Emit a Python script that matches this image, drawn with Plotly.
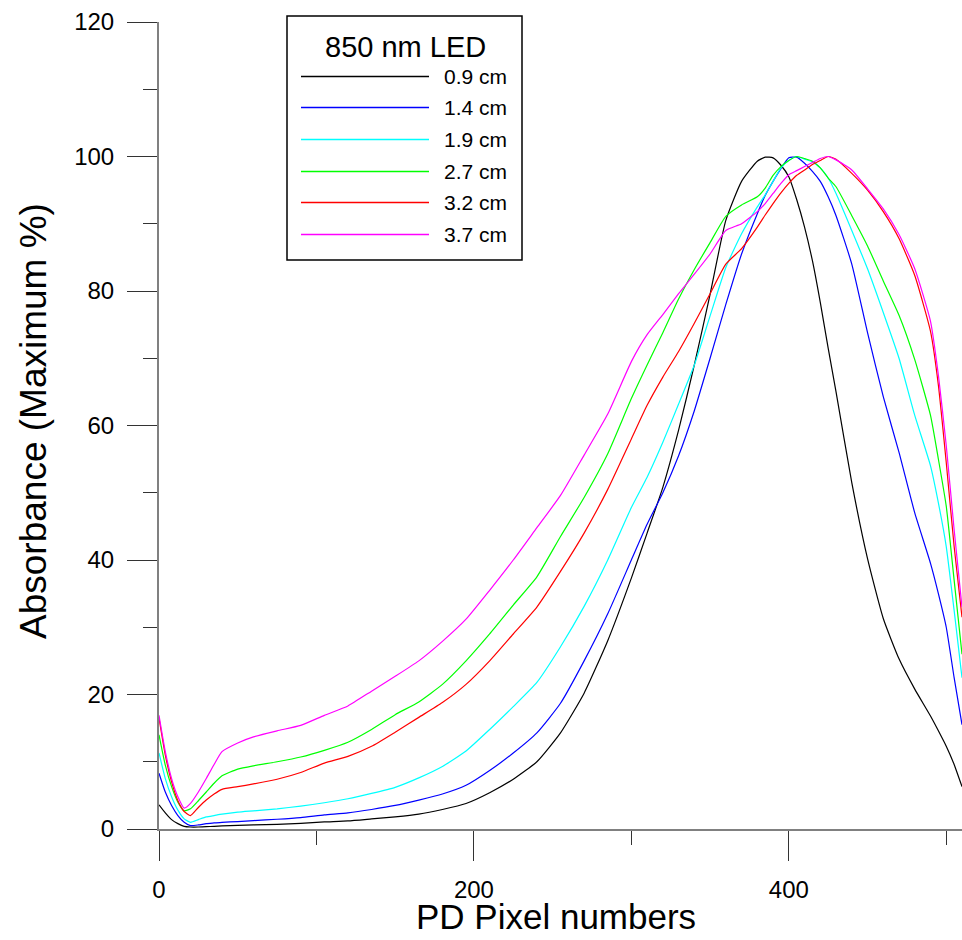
import plotly.graph_objects as go

# ---------------- data ----------------
pixel = [0, 4, 8, 12, 16, 20, 25, 30, 35, 40, 50, 60, 75, 90, 105, 120, 135, 150,
         165, 180, 195, 210, 225, 240, 255, 270, 285, 300, 310, 320, 330, 340,
         350, 360, 370, 380, 385, 390, 395, 400, 405, 410, 415, 420, 425, 430,
         440, 450, 460, 470, 480, 490, 495, 500, 505, 510]

abs_09 = [3.6, 2.4, 1.4, 0.8, 0.4, 0.3, 0.3, 0.35, 0.4, 0.45, 0.55, 0.6, 0.7, 0.85,
          1.05, 1.2, 1.5, 1.8, 2.2, 2.9, 3.8, 5.4, 7.4, 10.0, 14.3, 20.2, 28.0, 37.3,
          44.0, 50.8, 59.3, 69.0, 79.5, 90.5, 96.3, 99.3, 99.9, 99.8, 98.7, 97.0,
          93.6, 89.5, 84.5, 78.3, 71.5, 65.0, 51.5, 40.2, 31.3, 25.3, 20.8, 16.8,
          14.6, 12.3, 9.6, 6.3]

abs_14 = [8.3, 5.5, 3.5, 2.0, 1.0, 0.5, 0.6, 0.8, 0.9, 1.0, 1.1, 1.25, 1.45, 1.7,
          2.1, 2.4, 2.9, 3.5, 4.3, 5.2, 6.5, 8.7, 11.3, 14.3, 18.7, 25.0, 32.0, 40.0,
          45.3, 50.0, 55.5, 62.2, 70.0, 78.0, 85.5, 91.5, 94.2, 96.3, 98.2, 99.8,
          99.9, 99.0, 97.8, 96.3, 94.0, 91.2, 84.0, 73.8, 64.3, 56.0, 47.0, 39.5,
          35.0, 30.0, 22.5, 15.5]

abs_19 = [11.3, 7.5, 4.8, 2.8, 1.5, 1.0, 1.4, 1.8, 2.0, 2.2, 2.5, 2.7, 3.0, 3.4,
          3.9, 4.5, 5.3, 6.2, 7.6, 9.3, 11.6, 14.8, 18.2, 21.8, 27.1, 33.1, 40.0,
          47.8, 52.3, 57.5, 63.2, 69.0, 76.3, 83.5, 88.5, 92.5, 94.3, 96.3, 98.3,
          99.4, 100.0, 99.6, 99.2, 98.3, 96.8, 94.5, 89.0, 83.3, 76.8, 70.0, 61.5,
          54.0, 48.5, 42.0, 32.5, 22.5]

abs_27 = [14.0, 9.5, 6.3, 4.0, 2.7, 3.0, 4.2, 5.5, 6.8, 7.9, 8.9, 9.4, 10.0, 10.7,
          11.7, 12.9, 14.8, 17.0, 18.9, 21.5, 25.0, 29.0, 33.3, 37.5, 43.5, 49.3,
          55.8, 64.0, 69.0, 73.8, 78.8, 83.2, 87.2, 91.1, 92.8, 94.0, 95.3, 97.2,
          98.5, 99.4, 100.0, 99.7, 99.3, 98.3, 96.8, 95.5, 91.2, 86.7, 81.5, 76.4,
          69.8, 61.5, 55.0, 48.0, 37.0, 26.0]

abs_32 = [16.5, 11.0, 7.0, 4.2, 2.6, 2.0, 3.2, 4.3, 5.2, 5.9, 6.3, 6.7, 7.4, 8.4,
          9.8, 10.8, 12.3, 14.4, 16.6, 18.8, 21.5, 25.0, 29.0, 33.0, 38.3, 44.0,
          50.5, 58.0, 63.0, 67.2, 71.0, 75.2, 79.6, 84.0, 86.3, 89.5, 91.3, 93.0,
          94.6, 96.0, 97.2, 98.0, 98.8, 99.4, 100.0, 99.6, 97.5, 95.0, 91.8, 87.8,
          82.3, 74.0, 66.0, 54.5, 42.0, 31.5]

abs_37 = [16.9, 11.5, 7.5, 4.8, 3.1, 3.8, 5.5, 7.5, 9.6, 11.5, 12.8, 13.7, 14.6,
          15.4, 16.9, 18.3, 20.5, 22.7, 25.0, 27.9, 31.2, 35.5, 40.0, 44.8, 49.6,
          55.6, 61.7, 69.5, 73.5, 76.5, 79.6, 82.5, 85.5, 89.0, 90.0, 91.8, 93.0,
          94.5, 96.0, 97.3, 97.9, 98.5, 99.1, 99.7, 100.0, 99.5, 98.0, 95.2, 92.2,
          88.4, 83.3, 75.5, 67.5, 57.0, 44.5, 33.0]

series_names = ["0.9 cm", "1.4 cm", "1.9 cm", "2.7 cm", "3.2 cm", "3.7 cm"]
series_values = [abs_09, abs_14, abs_19, abs_27, abs_32, abs_37]
series_colors = ["#000000", "#0000FF", "#00FFFF", "#00FF00", "#FF0000", "#FF00FF"]

legend_title = "850 nm LED"
x_title = "PD Pixel numbers"
y_title = "Absorbance (Maximum %)"
y_ticks = [0, 20, 40, 60, 80, 100, 120]
x_ticks = [0, 200, 400]

# ---------------- layout geometry (pixels) ----------------
W, H = 962, 940
L, R, T, B = 159, 0, 22, 111
PW, PH = W - L - R, H - T - B


def px(x):
    return (x - L) / PW


def py(y):
    return (H - B - y) / PH


FONT = "Liberation Sans, Arial, sans-serif"

fig = go.Figure()
for name, vals, col in zip(series_names, series_values, series_colors):
    fig.add_trace(go.Scatter(x=pixel, y=vals, mode="lines", name=name,
                             line=dict(color=col, width=1.2, shape="spline",
                                       smoothing=0.5),
                             showlegend=False))

fig.update_layout(
    width=W, height=H,
    margin=dict(l=L, r=R, t=T, b=B, pad=0),
    paper_bgcolor="white", plot_bgcolor="white",
    font=dict(family=FONT, color="black"),
    showlegend=False,
)

fig.update_xaxes(
    range=[0, 510], tickvals=x_ticks, ticktext=[str(v) for v in x_ticks],
    showgrid=False, zeroline=False,
    showline=True, linecolor="#808080", linewidth=2,
    ticks="outside", ticklen=30, tickwidth=1.3, tickcolor="#333333",
    minor=dict(ticks="outside", ticklen=14, tickwidth=1.3, tickcolor="#333333",
               tick0=0, dtick=100, showgrid=False),
    tickfont=dict(family=FONT, size=24, color="black"),
    ticklabelstandoff=8,
)
fig.update_yaxes(
    range=[0, 120], tickvals=y_ticks, ticktext=[str(v) for v in y_ticks],
    showgrid=False, zeroline=False,
    showline=True, linecolor="#808080", linewidth=2,
    ticks="outside", ticklen=30, tickwidth=1.3, tickcolor="#333333",
    minor=dict(ticks="outside", ticklen=14, tickwidth=1.3, tickcolor="#333333",
               tick0=0, dtick=10, showgrid=False),
    tickfont=dict(family=FONT, size=24, color="black"),
    ticklabelstandoff=8,
)

# axis titles
fig.add_annotation(text=x_title, xref="paper", yref="paper",
                   x=px(556), y=py(916), xanchor="center", yanchor="middle",
                   showarrow=False, font=dict(family=FONT, size=35, color="black"))
fig.add_annotation(text=y_title, xref="paper", yref="paper", textangle=-90,
                   x=px(33), y=py(421), xanchor="center", yanchor="middle",
                   showarrow=False, font=dict(family=FONT, size=37, color="black"))

# legend box (drawn manually to match long sample lines)
fig.add_shape(type="rect", xref="paper", yref="paper",
              x0=px(287), x1=px(522), y0=py(260), y1=py(16),
              line=dict(color="black", width=1.5), fillcolor="white", layer="above")
fig.add_annotation(text=legend_title, xref="paper", yref="paper",
                   x=px(405), y=py(47), xanchor="center", yanchor="middle",
                   showarrow=False, font=dict(family=FONT, size=29, color="black"))
row_y = [76.5, 107.5, 139.5, 171.5, 202.5, 234.5]
for name, col, ry in zip(series_names, series_colors, row_y):
    fig.add_shape(type="line", xref="paper", yref="paper",
                  x0=px(301), x1=px(429), y0=py(ry), y1=py(ry),
                  line=dict(color=col, width=1.3), layer="above")
    fig.add_annotation(text=name, xref="paper", yref="paper",
                       x=px(442), y=py(ry), xanchor="left", yanchor="middle",
                       showarrow=False, font=dict(family=FONT, size=21, color="black"))

fig.write_html("out.html")
